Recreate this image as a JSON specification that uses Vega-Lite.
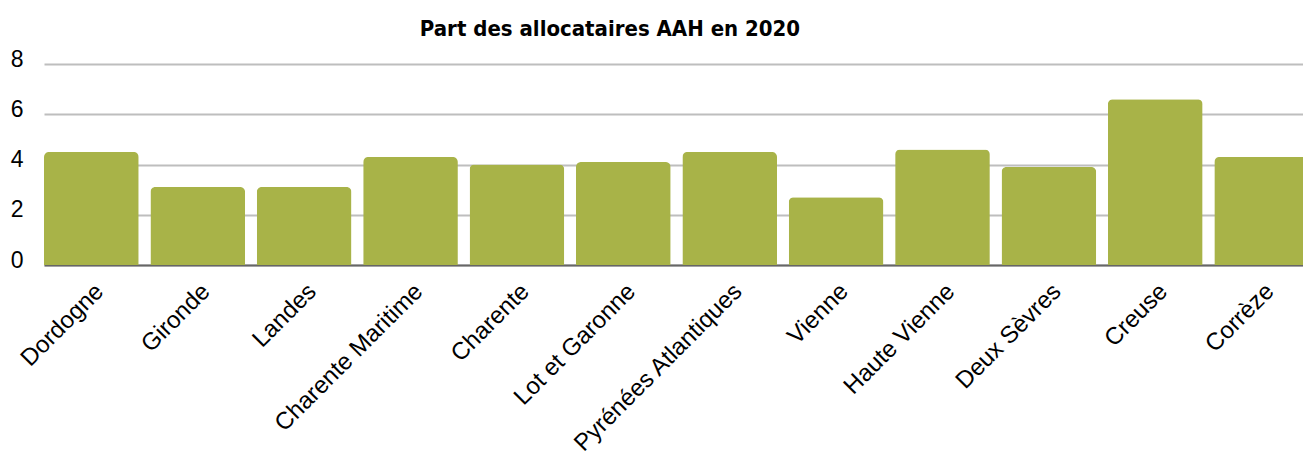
{
  "$schema": "https://vega.github.io/schema/vega-lite/v6.json",
  "width": 1258,
  "height": 201,
  "padding": {"left": 10, "top": 18, "right": 0, "bottom": 0},
  "background": "white",
  "title": {
    "text": "Part des allocataires AAH en 2020",
    "font": "DejaVu Sans Condensed",
    "fontWeight": "bold",
    "fontSize": 22,
    "color": "#000000",
    "anchor": "middle",
    "dx": -63,
    "offset": 7
  },
  "data": {
    "values": [
      {"dep": "Dordogne", "v": 4.5},
      {"dep": "Gironde", "v": 3.1},
      {"dep": "Landes", "v": 3.1},
      {"dep": "Charente Maritime", "v": 4.3},
      {"dep": "Charente", "v": 4.0},
      {"dep": "Lot et Garonne", "v": 4.1},
      {"dep": "Pyrénées Atlantiques", "v": 4.5},
      {"dep": "Vienne", "v": 2.7},
      {"dep": "Haute Vienne", "v": 4.6},
      {"dep": "Deux Sèvres", "v": 3.9},
      {"dep": "Creuse", "v": 6.6},
      {"dep": "Corrèze", "v": 4.3}
    ]
  },
  "mark": {"type": "bar", "color": "#A8B348", "cornerRadiusTopLeft": 5, "cornerRadiusTopRight": 5},
  "encoding": {
    "x": {
      "field": "dep",
      "type": "nominal",
      "sort": null,
      "scale": {"paddingInner": 0.11, "paddingOuter": 0, "range": [0, 1265]},
      "axis": {
        "title": null,
        "labelAngle": -45,
        "labelFont": "Liberation Sans",
        "labelFontSize": 24,
        "labelColor": "#000000",
        "labelLimit": 500,
        "ticks": false,
        "labelPadding": 14,
        "domainColor": "#666666",
        "domainWidth": 2
      }
    },
    "y": {
      "field": "v",
      "type": "quantitative",
      "scale": {"domain": [0, 8]},
      "axis": {
        "title": null,
        "values": [0, 2, 4, 6, 8],
        "ticks": false,
        "domain": false,
        "labelFont": "Liberation Sans",
        "labelFontSize": 23,
        "labelColor": "#000000",
        "labelPadding": 21,
        "labelOffset": -5,
        "gridColor": "#BEBEBE",
        "gridWidth": 2
      }
    }
  },
  "config": {"view": {"stroke": null}}
}
